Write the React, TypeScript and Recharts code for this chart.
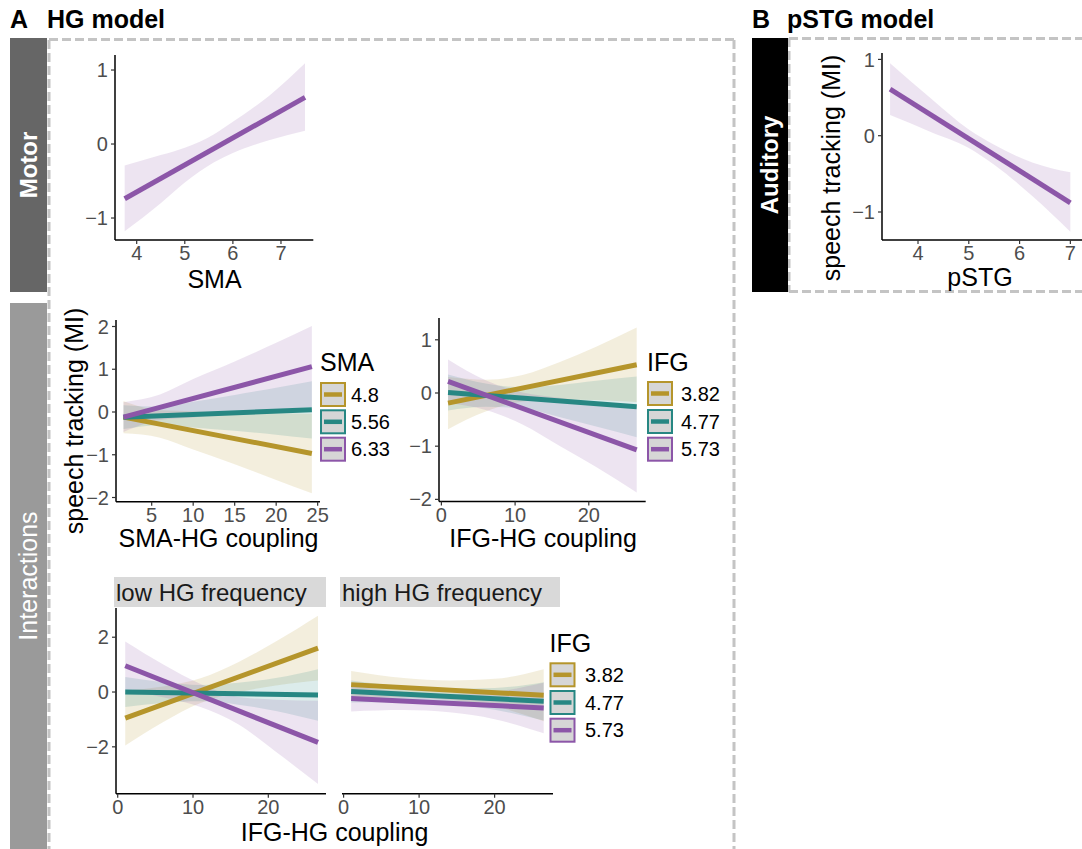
import React from 'react';
import { ComposedChart, Area, Line, XAxis, YAxis } from 'recharts';

const FONT = '"Liberation Sans", Arial, Helvetica, sans-serif';
const GOLD = '#B5952B';
const TEAL = '#278783';
const PURPLE = '#8C56A8';

// ---------- Data ----------
// Motor (HG model): speech tracking vs SMA
const motorX = [3.75, 4.5, 5.0, 5.6, 6.0, 6.75, 7.5];
const motorLo = [-1.18, -0.8, -0.52, -0.25, -0.12, 0.05, 0.18];
const motorHi = [-0.29, -0.15, -0.05, 0.13, 0.3, 0.65, 1.09];
const motorFit = [-0.74, 0.63];

// Auditory (pSTG model): speech tracking vs pSTG
const pstgX = [3.45, 4.25, 5.0, 5.5, 6.25, 7.0];
const pstgLo = [0.27, 0.05, -0.16, -0.38, -0.79, -1.26];
const pstgHi = [0.95, 0.49, 0.08, -0.12, -0.35, -0.48];
const pstgFit = [0.61, -0.88];

// SMA x SMA-HG coupling interaction
const smaLevels = ['4.8', '5.56', '6.33'];
const smaX = [1.6, 6, 10, 15, 20, 24.3];
const sma48Lo = [-0.5, -0.6, -0.88, -1.22, -1.59, -1.9];
const sma48Hi = [0.26, 0.04, 0.02, -0.02, -0.03, -0.04];
const sma48Fit = [-0.12, -0.97];
const sma556Lo = [-0.4, -0.31, -0.36, -0.44, -0.53, -0.62];
const sma556Hi = [0.16, 0.13, 0.24, 0.4, 0.57, 0.72];
const sma556Fit = [-0.12, 0.05];
const sma633Lo = [-0.47, -0.19, -0.13, -0.02, 0.06, 0.11];
const sma633Hi = [0.23, 0.41, 0.77, 1.18, 1.62, 2.01];
const sma633Fit = [-0.12, 1.06];

// IFG x IFG-HG coupling interaction
const ifgLevels = ['3.82', '4.77', '5.73'];
const ifgX = [0.9, 6, 11, 16, 21, 26.5];
const ifg382Lo = [-0.68, -0.35, -0.16, -0.12, -0.13, -0.17];
const ifg382Hi = [0.3, 0.25, 0.34, 0.58, 0.87, 1.23];
const ifg382Fit = [-0.19, 0.53];
const ifg477Lo = [-0.33, -0.26, -0.29, -0.45, -0.63, -0.83];
const ifg477Hi = [0.35, 0.18, 0.11, 0.15, 0.23, 0.31];
const ifg477Fit = [0.01, -0.26];
const ifg573Lo = [-0.19, -0.32, -0.59, -0.99, -1.39, -1.87];
const ifg573Hi = [0.63, 0.24, 0.01, -0.09, -0.19, -0.27];
const ifg573Fit = [0.22, -1.07];

// IFG x IFG-HG coupling x HG frequency: low
const lowX = [1, 6, 11, 16, 21, 26.6];
const low382Lo = [-1.95, -1.1, -0.4, -0.01, 0.24, 0.42];
const low382Hi = [0.05, 0.2, 0.5, 1.09, 1.84, 2.78];
const low382Fit = [-0.95, 1.6];
const low477Lo = [-0.55, -0.4, -0.34, -0.46, -0.69, -1.05];
const low477Hi = [0.55, 0.36, 0.26, 0.34, 0.51, 0.83];
const low477Fit = [0, -0.11];
const low573Lo = [0.08, -0.19, -0.55, -1.18, -2.18, -3.36];
const low573Hi = [1.84, 1.01, 0.29, -0.18, -0.28, -0.32];
const low573Fit = [0.96, -1.84];

// high HG frequency
const highX = [1, 8, 14, 20, 26.5];
const high382Lo = [-0.23, -0.19, -0.28, -0.52, -1.07];
const high382Hi = [0.77, 0.51, 0.42, 0.48, 0.83];
const high382Fit = [0.27, -0.12];
const high477Lo = [-0.38, -0.36, -0.44, -0.65, -1.04];
const high477Hi = [0.42, 0.2, 0.12, 0.15, 0.36];
const high477Fit = [0.02, -0.34];
const high573Lo = [-0.71, -0.66, -0.74, -0.99, -1.5];
const high573Hi = [0.23, 0.0, -0.08, 0.01, 0.34];
const high573Fit = [-0.24, -0.58];

// ---------- Helpers ----------
type Band = { key: string; color: string; lo: number[]; hi: number[]; fit: number[] };

function buildRows(xs: number[], bands: Band[]) {
  return xs.map((x, i) => {
    const row: any = { x };
    bands.forEach((b) => {
      row[b.key + 'CI'] = [b.lo[i], b.hi[i]];
      if (i === 0) row[b.key] = b.fit[0];
      else if (i === xs.length - 1) row[b.key] = b.fit[1];
    });
    return row;
  });
}

const fmt = (v: number) => String(v).replace('-', '\u2212');

const tickStyle = { fill: '#4D4D4D', fontSize: 20, fontFamily: FONT };

function Panel(props: {
  left: number; top: number; w: number; h: number;
  xDomain: number[]; yDomain: number[]; xTicks: number[]; yTicks: number[];
  xs: number[]; bands: Band[]; showY?: boolean;
}) {
  const { left, top, w, h, xDomain, yDomain, xTicks, yTicks, xs, bands } = props;
  const showY = props.showY !== false;
  const yW = showY ? 50 : 0;
  const padL = 20, padT = 10, padR = 12, xH = 40;
  const rows = buildRows(xs, bands);
  return (
    <div style={{ position: 'absolute', left: left - yW - padL, top: top - padT }}>
      <ComposedChart
        width={padL + yW + w + padR}
        height={padT + h + xH}
        data={rows}
        margin={{ top: padT, right: padR, left: padL, bottom: 0 }}
      >
        <XAxis
          type="number"
          dataKey="x"
          domain={xDomain}
          ticks={xTicks}
          interval={0}
          allowDataOverflow
          height={xH}
          axisLine={{ stroke: '#000', strokeWidth: 1.5 }}
          tickLine={{ stroke: '#333', strokeWidth: 1.2 }}
          tickSize={4}
          tickMargin={2}
          tick={tickStyle}
          tickFormatter={fmt}
        />
        <YAxis
          type="number"
          domain={yDomain}
          ticks={yTicks}
          interval={0}
          allowDataOverflow
          width={yW}
          hide={!showY}
          axisLine={{ stroke: '#000', strokeWidth: 1.5 }}
          tickLine={{ stroke: '#333', strokeWidth: 1.2 }}
          tickSize={4}
          tickMargin={3}
          tick={tickStyle}
          tickFormatter={fmt}
        />
        {bands.map((b) => (
          <Area
            key={b.key + 'CI'}
            dataKey={b.key + 'CI'}
            type="monotone"
            stroke="none"
            fill={b.color}
            fillOpacity={0.16}
            isAnimationActive={false}
            activeDot={false}
          />
        ))}
        {bands.map((b) => (
          <Line
            key={b.key}
            dataKey={b.key}
            type="linear"
            stroke={b.color}
            strokeWidth={5}
            dot={false}
            activeDot={false}
            connectNulls
            isAnimationActive={false}
          />
        ))}
      </ComposedChart>
    </div>
  );
}

function Legend(props: { x: number; titleBase: number; title: string; keyYs: number[]; labelX: number; labels: string[] }) {
  const colors = [GOLD, TEAL, PURPLE];
  const kw = 26, kh = 25;
  return (
    <g>
      <text x={props.x} y={props.titleBase} fontSize={25} fill="#000" fontFamily={FONT}>{props.title}</text>
      {props.keyYs.map((ky, i) => (
        <g key={i}>
          <rect x={props.x + 1} y={ky + 1} width={kw - 2} height={kh - 2} fill="#D6D6D6" stroke={colors[i]} strokeWidth={2} />
          <line x1={props.x + 4} x2={props.x + kw - 4} y1={ky + kh / 2} y2={ky + kh / 2} stroke={colors[i]} strokeWidth={4.5} />
          <text x={props.labelX} y={ky + kh / 2 + 7} fontSize={20} fill="#000" fontFamily={FONT}>{props.labels[i]}</text>
        </g>
      ))}
    </g>
  );
}

export default function App() {
  const dash = { stroke: '#C4C4C4', strokeWidth: 3, strokeDasharray: '9 4' };
  return (
    <div style={{ position: 'absolute', left: 0, top: 0, width: 1082, height: 849, overflow: 'hidden', background: '#fff', fontFamily: FONT }}>
      <svg width={1082} height={849} style={{ position: 'absolute', left: 0, top: 0 }}>
        {/* Panel titles */}
        <text x={10} y={28} fontSize={25} fontWeight="bold" fontFamily={FONT}>A</text>
        <text x={47} y={28} fontSize={25} fontWeight="bold" fontFamily={FONT}>HG model</text>
        <text x={752} y={28} fontSize={25} fontWeight="bold" fontFamily={FONT}>B</text>
        <text x={787} y={28} fontSize={25} fontWeight="bold" fontFamily={FONT}>pSTG model</text>

        {/* Dashed borders */}
        <line x1={49} y1={39.5} x2={734} y2={39.5} {...dash} />
        <line x1={49} y1={40} x2={49} y2={849} {...dash} />
        <line x1={734} y1={40} x2={734} y2={849} {...dash} />
        <line x1={789} y1={38.5} x2={1082} y2={38.5} {...dash} />
        <line x1={789} y1={291.5} x2={1082} y2={291.5} {...dash} />
        <line x1={789} y1={38} x2={789} y2={292} {...dash} />

        {/* Strips */}
        <rect x={10} y={38} width={37} height={254} fill="#666666" />
        <rect x={10} y={303} width={37} height={546} fill="#9A9A9A" />
        <rect x={752} y={38} width={36} height={254} fill="#000000" />
        <text transform="translate(37,165) rotate(-90)" textAnchor="middle" fontSize={24} fontWeight="bold" fill="#fff" fontFamily={FONT}>Motor</text>
        <text transform="translate(37,576) rotate(-90)" textAnchor="middle" fontSize={25} fill="#fff" fontFamily={FONT}>Interactions</text>
        <text transform="translate(778,165) rotate(-90)" textAnchor="middle" fontSize={24} fontWeight="bold" fill="#fff" fontFamily={FONT}>Auditory</text>

        {/* Axis titles */}
        <text x={214.5} y={288} textAnchor="middle" fontSize={25} fontFamily={FONT}>SMA</text>
        <text x={980} y={286} textAnchor="middle" fontSize={25} fontFamily={FONT}>pSTG</text>
        <text transform="translate(840,168) rotate(-90)" textAnchor="middle" fontSize={25} fontFamily={FONT}>speech tracking (MI)</text>
        <text transform="translate(83,421) rotate(-90)" textAnchor="middle" fontSize={25} fontFamily={FONT}>speech tracking (MI)</text>
        <text x={218.5} y={547} textAnchor="middle" fontSize={25} fontFamily={FONT}>SMA-HG coupling</text>
        <text x={543} y={547} textAnchor="middle" fontSize={25} fontFamily={FONT}>IFG-HG coupling</text>
        <text x={334.5} y={841} textAnchor="middle" fontSize={25} fontFamily={FONT}>IFG-HG coupling</text>

        {/* Facet strips */}
        <rect x={114} y={577} width={212} height={30} fill="#D9D9D9" />
        <text x={116} y={601} fontSize={24} fill="#1A1A1A" fontFamily={FONT}>low HG frequency</text>
        <rect x={340} y={577} width={220} height={30} fill="#D9D9D9" />
        <text x={342} y={601} fontSize={24} fill="#1A1A1A" fontFamily={FONT}>high HG frequency</text>

        {/* Legends */}
        <Legend x={320} titleBase={371} title="SMA" keyYs={[382, 409.3, 436.7]} labelX={351} labels={smaLevels} />
        <Legend x={647} titleBase={371} title="IFG" keyYs={[381, 409, 436.7]} labelX={681} labels={ifgLevels} />
        <Legend x={549.5} titleBase={652} title="IFG" keyYs={[662.3, 690, 717.7]} labelX={585} labels={ifgLevels} />
      </svg>

      <Panel
        left={115} top={55} w={198.3} h={185}
        xDomain={[3.549, 7.672]} yDomain={[-1.297, 1.203]}
        xTicks={[4, 5, 6, 7]} yTicks={[-1, 0, 1]}
        xs={motorX}
        bands={[{ key: 'motor', color: PURPLE, lo: motorLo, hi: motorHi, fit: motorFit }]}
      />
      <Panel
        left={881.7} top={53} w={200.3} h={187}
        xDomain={[3.291, 7.235]} yDomain={[-1.367, 1.084]}
        xTicks={[4, 5, 6, 7]} yTicks={[-1, 0, 1]}
        xs={pstgX}
        bands={[{ key: 'pstg', color: PURPLE, lo: pstgLo, hi: pstgHi, fit: pstgFit }]}
      />
      <Panel
        left={116} top={320} w={204} h={181.7}
        xDomain={[0.7, 25.28]} yDomain={[-2.098, 2.152]}
        xTicks={[5, 10, 15, 20, 25]} yTicks={[-2, -1, 0, 1, 2]}
        xs={smaX}
        bands={[
          { key: 's48', color: GOLD, lo: sma48Lo, hi: sma48Hi, fit: sma48Fit },
          { key: 's556', color: TEAL, lo: sma556Lo, hi: sma556Hi, fit: sma556Fit },
          { key: 's633', color: PURPLE, lo: sma633Lo, hi: sma633Hi, fit: sma633Fit },
        ]}
      />
      <Panel
        left={439.3} top={318.3} w={206.7} h={183.4}
        xDomain={[-0.326, 27.72]} yDomain={[-2.038, 1.41]}
        xTicks={[0, 10, 20]} yTicks={[-2, -1, 0, 1]}
        xs={ifgX}
        bands={[
          { key: 'i382', color: GOLD, lo: ifg382Lo, hi: ifg382Hi, fit: ifg382Fit },
          { key: 'i477', color: TEAL, lo: ifg477Lo, hi: ifg477Hi, fit: ifg477Fit },
          { key: 'i573', color: PURPLE, lo: ifg573Lo, hi: ifg573Hi, fit: ifg573Fit },
        ]}
      />
      <Panel
        left={116} top={608.3} w={210} h={185.7}
        xDomain={[-0.226, 27.66]} yDomain={[-3.71, 3.066]}
        xTicks={[0, 10, 20]} yTicks={[-2, 0, 2]}
        xs={lowX}
        bands={[
          { key: 'l382', color: GOLD, lo: low382Lo, hi: low382Hi, fit: low382Fit },
          { key: 'l477', color: TEAL, lo: low477Lo, hi: low477Hi, fit: low477Fit },
          { key: 'l573', color: PURPLE, lo: low573Lo, hi: low573Hi, fit: low573Fit },
        ]}
      />
      <Panel
        left={341.7} top={608.3} w={211} h={185.7}
        xDomain={[-0.21, 27.73]} yDomain={[-3.71, 3.066]}
        xTicks={[0, 10, 20]} yTicks={[-2, 0, 2]}
        showY={false}
        xs={highX}
        bands={[
          { key: 'h382', color: GOLD, lo: high382Lo, hi: high382Hi, fit: high382Fit },
          { key: 'h477', color: TEAL, lo: high477Lo, hi: high477Hi, fit: high477Fit },
          { key: 'h573', color: PURPLE, lo: high573Lo, hi: high573Hi, fit: high573Fit },
        ]}
      />
    </div>
  );
}
